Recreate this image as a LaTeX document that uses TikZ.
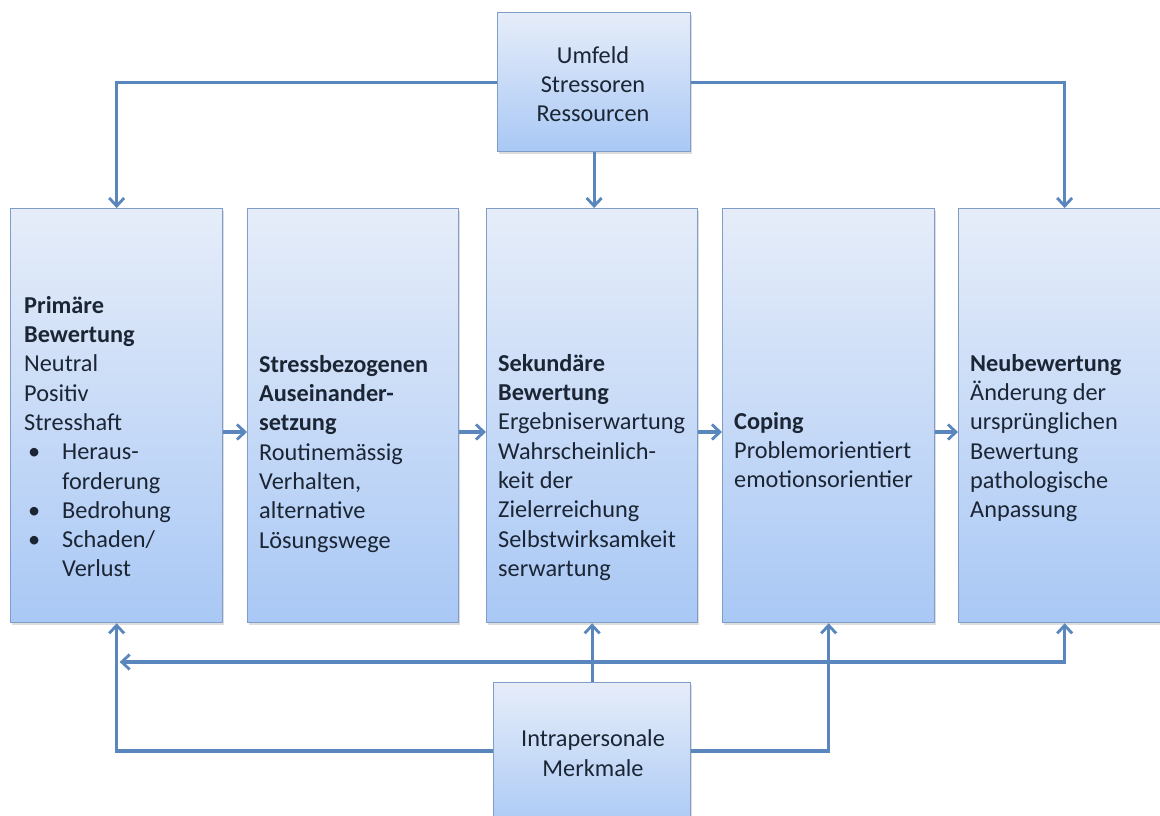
\documentclass[tikz,border=0pt]{standalone}
\usepackage{fontspec}
\setmainfont{Carlito}
\usetikzlibrary{arrows.meta,shadows}
\definecolor{boxtop}{HTML}{E6EDF9}
\definecolor{boxbot}{HTML}{A9C8F5}
\definecolor{boxline}{HTML}{7E9DC9}
\definecolor{linkblue}{HTML}{5886BD}
\definecolor{inktext}{HTML}{1B2534}
\begin{document}
\begin{tikzpicture}[x=1pt,y=-1pt,
  stage/.style={draw=boxline, line width=1.3pt, top color=boxtop, bottom color=boxbot,
    inner sep=0pt, anchor=north west,
    drop shadow={shadow xshift=1.5pt, shadow yshift=-2pt, opacity=0.22, fill=black!60}},
  link/.style={draw=linkblue, line width=3.2pt},
  tip/.style={-{Straight Barb[length=8pt,width=15pt,line width=2.8pt]}},
  label/.style={font=\fontsize{24.3}{29.3}\selectfont, text=inktext, inner sep=0pt},
  copy/.style={label, align=left, anchor=north west}
]
\clip (0,0) rectangle (1160,815);
\fill[white] (0,0) rectangle (1160,815);

% the five stages of the appraisal process
\node[stage, minimum width=212pt, minimum height=414pt] (b1) at (10,208) {};
\node[stage, minimum width=211pt, minimum height=414pt] (b2) at (247,208) {};
\node[stage, minimum width=211pt, minimum height=414pt] (b3) at (486,208) {};
\node[stage, minimum width=212pt, minimum height=414pt] (b4) at (722,208) {};
\node[stage, minimum width=212pt, minimum height=414pt] (b5) at (958,208) {};

% environment and person
\node[stage, minimum width=193pt, minimum height=139pt] (top) at (497,12) {};
\node[stage, minimum width=197pt, minimum height=150pt] (bot) at (493,682) {};

% texts
\node[label, align=center] (ttop) at (593,84) {Umfeld\\Stressoren\\Ressourcen};
\node[label, align=center] (tbot) at (593,753) {Intrapersonale\\Merkmale};

\node[copy] (t1) at (24,296) {\textbf{Primäre}\\\textbf{Bewertung}\\Neutral\\Positiv\\Stresshaft\\
  \hspace*{4pt}\makebox[34pt][l]{\textbullet}Heraus-\\\hspace*{38pt}forderung\\
  \hspace*{4pt}\makebox[34pt][l]{\textbullet}Bedrohung\\
  \hspace*{4pt}\makebox[34pt][l]{\textbullet}Schaden/\\\hspace*{38pt}Verlust};
\node[copy] (t2) at (259,355) {\textbf{Stressbezogenen}\\\textbf{Auseinander-}\\\textbf{setzung}\\Routinemässig\\Verhalten,\\alternative\\Lösungswege};
\node[copy] (t3) at (498,354) {\textbf{Sekundäre}\\\textbf{Bewertung}\\Ergebniserwartung\\Wahrscheinlich-\\keit der\\Zielerreichung\\Selbstwirksamkeit\\serwartung};
\node[copy] (t4) at (734,412) {\textbf{Coping}\\Problemorientiert\\emotionsorientier};
\node[copy] (t5) at (970,354) {\textbf{Neubewertung}\\Änderung der\\ursprünglichen\\Bewertung\\pathologische\\Anpassung};

% helper levels
\coordinate (midy) at (0,432);
\coordinate (upy) at (0,662);
\coordinate (lowy) at (0,751);
\coordinate (hub) at (bot.north |- upy);

% from the environment down to the stages
\draw[link,tip] (top.east) -| (b5.north);
\draw[link,tip] (top.west) -| (b1.north);
\draw[link,tip] (top.south) -- (top.south |- b3.north);

% sequence of stages
\draw[link,tip] (b1.east |- midy) -- (b2.west |- midy);
\draw[link,tip] (b2.east |- midy) -- (b3.west |- midy);
\draw[link,tip] (b3.east |- midy) -- (b4.west |- midy);
\draw[link,tip] (b4.east |- midy) -- (b5.west |- midy);

% from the person up to the stages
\draw[link,tip] (bot.west |- lowy) -| (b1.south);
\draw[link,tip] (bot.east |- lowy) -| (b4.south);
\draw[link,tip] (bot.north) -- (bot.north |- b3.south);
\draw[link,tip] (hub) -| (b5.south);
\draw[link,tip] (hub) -- ([xshift=3pt]b1.south |- upy);
\end{tikzpicture}
\end{document}
